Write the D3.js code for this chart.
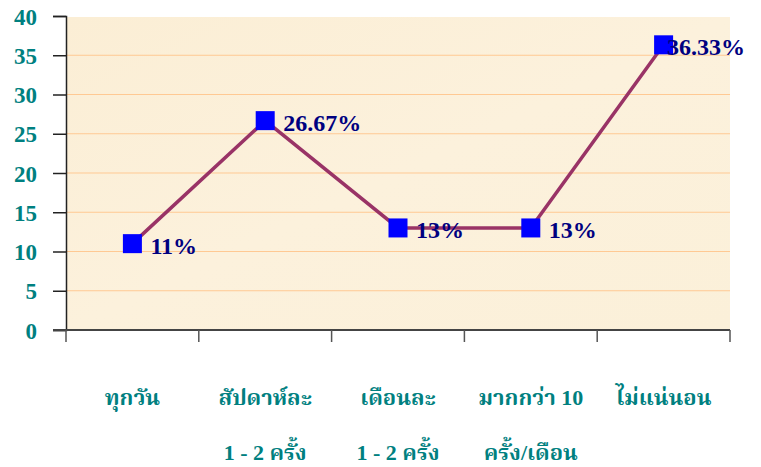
<!DOCTYPE html>
<html>
<head>
<meta charset="utf-8">
<script src="https://cdn.jsdelivr.net/npm/d3@7"></script>
<style>
  body { margin: 0; background: #fff; }
  svg { display: block; }
</style>
</head>
<body>
<div id="chart"></div>
<script>
// chart data
var categories = ["ทุกวัน", "สัปดาห์ละ|1 - 2 ครั้ง", "เดือนละ|1 - 2 ครั้ง", "มากกว่า 10|ครั้ง/เดือน", "ไม่แน่นอน"];
var values = [11, 26.67, 13, 13, 36.33];
var valueLabels = ["11%", "26.67%", "13%", "13%", "36.33%"];
var yTicks = [0, 5, 10, 15, 20, 25, 30, 35, 40];

var W = 761, H = 467;
var plotLeft = 66, plotRight = 730, plotTop = 16, plotBottom = 330;

var serif = "'Liberation Serif', 'Times New Roman', 'Noto Serif Thai', 'Noto Sans Thai', 'DejaVu Serif', serif";

var svg = d3.select("#chart").append("svg")
  .attr("width", W).attr("height", H);

var x = d3.scaleBand().domain(categories).range([plotLeft, plotRight]);
var y = d3.scaleLinear().domain([0, 40]).range([plotBottom, plotTop]);

// plot background
var defs = svg.append("defs");
var grad = defs.append("linearGradient").attr("id", "bg")
  .attr("x1", 0).attr("y1", 0).attr("x2", 1).attr("y2", 1);
grad.append("stop").attr("offset", "0%").attr("stop-color", "#fbeed5");
grad.append("stop").attr("offset", "50%").attr("stop-color", "#fcf1dc");
grad.append("stop").attr("offset", "100%").attr("stop-color", "#fbf0d9");

svg.append("rect")
  .attr("x", plotLeft).attr("y", y(40) + 1)
  .attr("width", plotRight - plotLeft).attr("height", plotBottom - y(40) - 1)
  .attr("fill", "url(#bg)");

// grid lines
svg.selectAll(".grid")
  .data(yTicks.filter(function(d){ return d > 0 && d < 40; }))
  .enter().append("line")
  .attr("class", "grid")
  .attr("x1", plotLeft).attr("x2", plotRight)
  .attr("y1", function(d){ return y(d); })
  .attr("y2", function(d){ return y(d); })
  .attr("stroke", "#ffc993").attr("stroke-width", 1);

// y axis
var yAxis = svg.append("g")
  .attr("transform", "translate(" + plotLeft + ",0)")
  .call(d3.axisLeft(y).tickValues(yTicks).tickSize(13).tickPadding(16));
yAxis.select(".domain").attr("stroke", "#222").attr("stroke-width", 1.5);
yAxis.selectAll(".tick line").attr("stroke", "#222").attr("stroke-width", 1.5);
yAxis.selectAll("text")
  .attr("fill", "#008080")
  .style("font-family", serif)
  .style("font-size", "23px")
  .style("font-weight", "bold")
  .attr("dy", "0.35em");

// x axis
var xAxis = svg.append("g")
  .attr("transform", "translate(0," + plotBottom + ")");
xAxis.append("line")
  .attr("x1", plotLeft - 13).attr("x2", plotRight)
  .attr("y1", 0).attr("y2", 0)
  .attr("stroke", "#444").attr("stroke-width", 2);
var edges = categories.map(function(c){ return x(c); }).concat([plotRight]);
xAxis.selectAll(".xtick")
  .data(edges)
  .enter().append("line")
  .attr("class", "xtick")
  .attr("x1", function(d){ return d; }).attr("x2", function(d){ return d; })
  .attr("y1", 0).attr("y2", 12)
  .attr("stroke", "#555").attr("stroke-width", 1.5);

var xl = svg.selectAll(".xlabel")
  .data(categories)
  .enter().append("text")
  .attr("class", "xlabel")
  .attr("text-anchor", "middle")
  .attr("fill", "#008080")
  .style("font-family", serif)
  .style("font-size", "22px")
  .style("font-weight", "bold");
xl.each(function(d){
  var parts = d.split("|");
  var t = d3.select(this);
  parts.forEach(function(p, i){
    t.append("tspan")
      .attr("x", x(d) + x.bandwidth() / 2)
      .attr("y", 405 + i * 55)
      .text(p);
  });
});

// line
var pts = categories.map(function(c, i){ return [x(c) + x.bandwidth() / 2, y(values[i])]; });
svg.append("path")
  .datum(pts)
  .attr("d", d3.line())
  .attr("fill", "none")
  .attr("stroke", "#993366")
  .attr("stroke-width", 3.5);

// markers
var ms = 19;
svg.selectAll(".marker")
  .data(pts)
  .enter().append("rect")
  .attr("class", "marker")
  .attr("x", function(d){ return d[0] - ms / 2; })
  .attr("y", function(d){ return d[1] - ms / 2; })
  .attr("width", ms).attr("height", ms)
  .attr("fill", "#0000ff");

// value labels
svg.selectAll(".vlabel")
  .data(pts)
  .enter().append("text")
  .attr("class", "vlabel")
  .attr("y", function(d){ return d[1] + 10; })
  .attr("fill", "#000080")
  .style("font-family", serif)
  .style("font-size", "24px")
  .style("font-weight", "bold")
  .text(function(d, i){ return valueLabels[i]; })
  .attr("x", function(d){
    var w = this.getComputedTextLength();
    return Math.min(d[0] + 18, 745 - w);
  });
</script>
</body>
</html>
